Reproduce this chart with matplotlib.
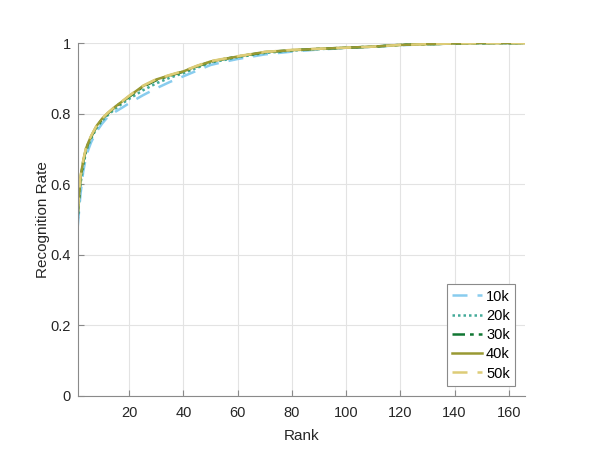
import matplotlib.pyplot as plt

plt.rcParams['font.family'] = ['Liberation Sans', 'DejaVu Sans']

ranks = [1, 2, 3, 4, 5, 6, 8, 10, 12, 15, 18, 20, 25, 30, 35, 40, 45, 50, 55,
         60, 70, 80, 90, 100, 110, 120, 130, 140, 150, 160, 166]

rate_10k = [0.480, 0.570, 0.635, 0.675, 0.700, 0.720, 0.750, 0.772, 0.790, 0.806,
            0.820, 0.830, 0.852, 0.872, 0.890, 0.906, 0.922, 0.938, 0.947,
            0.955, 0.968, 0.976, 0.982, 0.986, 0.990, 0.994, 0.997, 0.999,
            1.000, 1.000, 1.000]
rate_20k = [0.500, 0.600, 0.650, 0.690, 0.712, 0.730, 0.760, 0.780, 0.795, 0.815,
            0.832, 0.842, 0.866, 0.886, 0.902, 0.915, 0.930, 0.945, 0.952,
            0.960, 0.972, 0.979, 0.983, 0.987, 0.990, 0.995, 0.997, 0.999,
            1.000, 1.000, 1.000]
rate_30k = [0.510, 0.615, 0.662, 0.698, 0.718, 0.735, 0.764, 0.784, 0.800, 0.820,
            0.837, 0.848, 0.876, 0.895, 0.908, 0.919, 0.934, 0.947, 0.955,
            0.962, 0.974, 0.980, 0.984, 0.987, 0.990, 0.995, 0.997, 0.999,
            1.000, 1.000, 1.000]
rate_40k = [0.515, 0.620, 0.665, 0.700, 0.720, 0.737, 0.766, 0.786, 0.801, 0.821,
            0.838, 0.850, 0.878, 0.897, 0.909, 0.920, 0.935, 0.948, 0.955,
            0.962, 0.975, 0.980, 0.984, 0.987, 0.990, 0.995, 0.997, 0.999,
            1.000, 1.000, 1.000]
rate_50k = [0.520, 0.622, 0.667, 0.702, 0.722, 0.738, 0.767, 0.787, 0.802, 0.822,
            0.839, 0.851, 0.879, 0.898, 0.910, 0.921, 0.936, 0.949, 0.956,
            0.963, 0.975, 0.981, 0.984, 0.987, 0.990, 0.995, 0.997, 0.999,
            1.000, 1.000, 1.000]

labels = ['10k', '20k', '30k', '40k', '50k']

fig = plt.figure(figsize=(5.98, 4.54), dpi=100)
ax = fig.add_axes([0.130, 0.128, 0.748, 0.777])

# grilla
ax.grid(True, color='#e3e3e3', lw=0.8)
ax.set_axisbelow(True)

ax.plot(ranks, rate_10k, c='#88ccee', ls=(0, (6, 4)), lw=1.8)
ax.plot(ranks, rate_20k, c='#44aa99', ls=(0, (1, 1.2)), lw=1.8)
ax.plot(ranks, rate_30k, c='#117733', ls=(0, (5, 2, 1.5, 2)), lw=1.8)
ax.plot(ranks, rate_40k, c='#999933', ls='-', lw=1.8)
ax.plot(ranks, rate_50k, c='#ddcc77', ls=(0, (6, 4)), lw=1.8)

ax.set_xlim(1, 166)
ax.set_ylim(0, 1)
ax.set_xticks([20, 40, 60, 80, 100, 120, 140, 160])
ax.set_yticks([0, 0.2, 0.4, 0.6, 0.8, 1])
ax.set_yticklabels(['0', '0.2', '0.4', '0.6', '0.8', '1'])

for s in ['top', 'right']:
    ax.spines[s].set_visible(False)
for s in ['left', 'bottom']:
    ax.spines[s].set_color('#8a8a8a')
    ax.spines[s].set_linewidth(0.8)
ax.tick_params(direction='in', length=4, color='#8a8a8a', labelsize=10.5,
               labelcolor='#262626')
ax.tick_params(axis='x', pad=7)
ax.tick_params(axis='y', pad=5)

ax.set_xlabel('Rank', fontsize=11, color='#262626', labelpad=7)
ax.set_ylabel('Recognition Rate', fontsize=11, color='#262626', labelpad=0)

leg = ax.legend(labels, loc='lower right', fontsize=10.5, fancybox=False,
                framealpha=1, edgecolor='#8a8a8a', handlelength=2.1,
                borderaxespad=0.7, labelspacing=0.36, handletextpad=0.25,
                borderpad=0.35)
leg.get_frame().set_linewidth(0.8)

fig.savefig('out.png', dpi=100)
